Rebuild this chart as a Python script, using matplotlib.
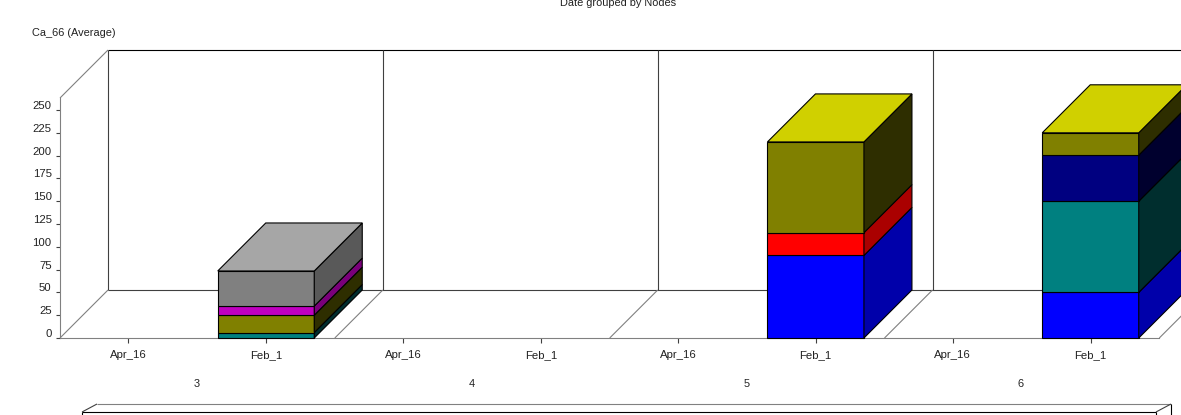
import matplotlib
matplotlib.use('Agg')
import matplotlib.pyplot as plt
from matplotlib.patches import Polygon
from matplotlib.transforms import ScaledTranslation

# ==== Data ====
NODES = ['3', '4', '5', '6']
DATES = ['Apr_16', 'Feb_1']
Y_TICKS = [0, 25, 50, 75, 100, 125, 150, 175, 200, 225, 250]

# Stacked Feb_1 segments per node, bottom to top (Apr_16 has no data)
NODE_3_VALUES = [6, 19, 10, 38.5]
NODE_3_COLORS = ['teal', 'olive', 'magenta', 'gray']
NODE_4_VALUES = []
NODE_4_COLORS = []
NODE_5_VALUES = [90.5, 25, 99.5]
NODE_5_COLORS = ['blue', 'red', 'olive']
NODE_6_VALUES = [50, 100, 50.5, 24.5]
NODE_6_COLORS = ['blue', 'teal', 'navy', 'olive']

# ==== Style ====
# name: (front, side, top)
SHADES = {
    'teal': ('#008080', '#002E2E', '#00D0D0'),
    'olive': ('#808000', '#2E2E00', '#D0D000'),
    'magenta': ('#C000C0', '#7A007A', '#E040E0'),
    'gray': ('#808080', '#595959', '#A6A6A6'),
    'blue': ('#0000FF', '#0000AA', '#4040FF'),
    'red': ('#FF0000', '#AA0000', '#FF4040'),
    'navy': ('#000080', '#00002E', '#0000D0'),
}
WALL_COLOR = '#404040'
FLOOR_COLOR = '#808080'
TEXT_COLOR = '#222222'
FONT = 'Liberation Sans'
FONT_SIZE = 7.9
TICK_FONT_SIZE = 8.2

# ==== Layout, in pixels ====
W, H = 1181, 415
ZERO_Y = 338          # pixel row of value 0
PX_PER_UNIT = 0.912
DEPTH = 48            # 3D offset of the back wall
PANEL_X = [60, 334.8, 609.7, 884.5]
PANEL_WIDTH = 274.8
TOP_Y = 98            # front top corner of the left wall
BAR_WIDTH = 96.5
APR_OFFSET = 68.3
FEB_OFFSET = 206
LW = 0.8


def val(px):
    """Pixel row -> value on the y axis."""
    return (ZERO_Y - px) / PX_PER_UNIT


def line(ax, xs, rows, color, z=1):
    ax.plot(xs, [val(r) for r in rows], color=color, lw=LW, zorder=z,
            solid_capstyle='butt', clip_on=False)


def draw_frame(ax):
    back_left = PANEL_X[0] + DEPTH
    back_floor = ZERO_Y - DEPTH
    back_top = TOP_Y - DEPTH
    line(ax, [back_left, W], [back_top, back_top], 'black')
    line(ax, [back_left, W], [back_floor, back_floor], WALL_COLOR)
    line(ax, [PANEL_X[0], back_left], [TOP_Y, back_top], FLOOR_COLOR)

    for x in PANEL_X:
        line(ax, [x + DEPTH] * 2, [back_top, back_floor], WALL_COLOR)
        line(ax, [x, x + DEPTH], [ZERO_Y, back_floor], FLOOR_COLOR)
    # Right edge of the last floor runs off the canvas
    end = PANEL_X[-1] + PANEL_WIDTH
    line(ax, [end, end + DEPTH], [ZERO_Y, back_floor], FLOOR_COLOR)


def draw_stack(ax, center, values, colors):
    """One stacked 3D bar: front faces from ax.bar, then sides and top."""
    left = center - BAR_WIDTH / 2
    right = center + BAR_WIDTH / 2
    d = DEPTH / PX_PER_UNIT
    bottom = 0
    for value, name in zip(values, colors):
        front, side, _ = SHADES[name]
        ax.bar(center, value, BAR_WIDTH, bottom=bottom, color=front,
               edgecolor='black', lw=LW, zorder=3)
        top = bottom + value
        ax.add_patch(Polygon(
            [(right, bottom), (right + DEPTH, bottom + d),
             (right + DEPTH, top + d), (right, top)],
            facecolor=side, edgecolor='black', lw=LW, zorder=3))
        bottom = top
    if colors:
        ax.add_patch(Polygon(
            [(left, bottom), (right, bottom), (right + DEPTH, bottom + d),
             (left + DEPTH, bottom + d)],
            facecolor=SHADES[colors[-1]][2], edgecolor='black', lw=LW, zorder=4))


def draw_legend_box(ax):
    # Only the top of the legend box fits on the canvas
    left, inner_right, right = 82, 1156, 1171
    front_y, back_y = 412, 404
    line(ax, [left, inner_right], [front_y, front_y], 'black')
    line(ax, [left + 15, right], [back_y, back_y], FLOOR_COLOR)
    line(ax, [left, left + 15], [front_y, back_y], WALL_COLOR)
    line(ax, [inner_right, right], [front_y, back_y], WALL_COLOR)
    line(ax, [left, left], [front_y, H], 'black')
    line(ax, [inner_right, inner_right], [front_y, H], 'black')
    line(ax, [right, right], [back_y, H], 'black')


def main():
    plt.rcParams['font.family'] = [FONT, 'DejaVu Sans']
    plt.rcParams['font.size'] = FONT_SIZE

    fig = plt.figure(figsize=(W / 100, H / 100), dpi=100)
    ax = fig.add_axes([60 / W, 0, (W - 60) / W, 1])
    ax.set_xlim(60, W)
    ax.set_ylim(val(H), val(0))
    ax.patch.set_visible(False)

    draw_frame(ax)

    all_values = [NODE_3_VALUES, NODE_4_VALUES, NODE_5_VALUES, NODE_6_VALUES]
    all_colors = [NODE_3_COLORS, NODE_4_COLORS, NODE_5_COLORS, NODE_6_COLORS]
    for x, values, colors in zip(PANEL_X, all_values, all_colors):
        draw_stack(ax, x + FEB_OFFSET, values, colors)

    # Axes lines and ticks
    for side in ('top', 'right'):
        ax.spines[side].set_visible(False)
    ax.spines['bottom'].set_position(('data', 0))
    ax.spines['bottom'].set_bounds(60, PANEL_X[-1] + PANEL_WIDTH)
    ax.spines['bottom'].set_color(FLOOR_COLOR)
    ax.spines['bottom'].set_zorder(2)
    ax.spines['left'].set_bounds(0, val(TOP_Y))
    ax.spines['left'].set_color(FLOOR_COLOR)
    for spine in ax.spines.values():
        spine.set_linewidth(LW)

    ax.set_yticks(Y_TICKS)
    ax.set_yticklabels([str(t) for t in Y_TICKS], color=TEXT_COLOR,
                       fontsize=TICK_FONT_SIZE)
    ax.tick_params(axis='y', length=3, width=LW, pad=3, color=WALL_COLOR)
    # Value labels sit a little above their ticks
    shift = ScaledTranslation(0, 5 / 100, fig.dpi_scale_trans)
    for label in ax.get_yticklabels():
        label.set_transform(label.get_transform() + shift)

    tick_x = []
    tick_labels = []
    for x in PANEL_X:
        tick_x += [x + APR_OFFSET, x + FEB_OFFSET]
        tick_labels += DATES
    ax.set_xticks(tick_x)
    ax.set_xticklabels(tick_labels, color=TEXT_COLOR, fontsize=TICK_FONT_SIZE)
    ax.tick_params(axis='x', length=3.6, width=LW, pad=10.8, color=WALL_COLOR)
    # Same baseline for both date labels
    for label in ax.get_xticklabels():
        label.set_verticalalignment('baseline')

    # Node names under each panel
    for x, node in zip(PANEL_X, NODES):
        ax.text(x + 136.5, val(384), node, ha='center', va='center',
                color=TEXT_COLOR, fontsize=FONT_SIZE)

    draw_legend_box(ax)

    fig.text(618 / W, 1 - 3 / H, 'Date grouped by Nodes', ha='center',
             va='center', color=TEXT_COLOR, fontsize=FONT_SIZE)
    fig.text(32 / W, 1 - 33 / H, 'Ca_66 (Average)', ha='left', va='center',
             color=TEXT_COLOR, fontsize=FONT_SIZE)

    fig.savefig('out.png', dpi=100, facecolor='white')


if __name__ == '__main__':
    main()
